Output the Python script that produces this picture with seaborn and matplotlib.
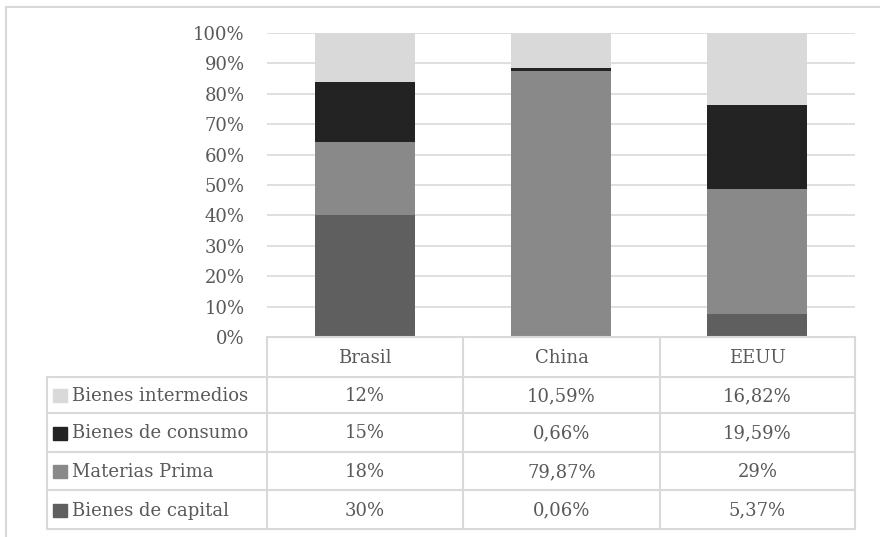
import numpy as np
import pandas as pd
import matplotlib.pyplot as plt
import seaborn as sns
from matplotlib.lines import Line2D
from matplotlib.patches import Rectangle

# Data (shares as shown in the data table, %)
countries = ['Brasil', 'China', 'EEUU']
categories = ['Bienes intermedios', 'Bienes de consumo', 'Materias Prima', 'Bienes de capital']
intermedios = [12, 10.59, 16.82]
consumo = [15, 0.66, 19.59]
materias = [18, 79.87, 29]
capital = [30, 0.06, 5.37]
table_text = [
    ['12%', '10,59%', '16,82%'],
    ['15%', '0,66%', '19,59%'],
    ['18%', '79,87%', '29%'],
    ['30%', '0,06%', '5,37%'],
]
colors = ['#d9d9d9', '#232323', '#898989', '#5f5f5f']
text_color = '#595959'
line_color = '#d9d9d9'
fs = 13

sns.set_theme(style='white')
plt.rcParams['font.family'] = ['DejaVu Serif']

df = pd.DataFrame({'pais': countries, 'Bienes de capital': capital,
                   'Materias Prima': materias, 'Bienes de consumo': consumo,
                   'Bienes intermedios': intermedios})
stack_order = ['Bienes de capital', 'Materias Prima', 'Bienes de consumo', 'Bienes intermedios']
totals = df[stack_order].sum(axis=1)
pct = df[stack_order].div(totals, axis=0) * 100
cum = pct.cumsum(axis=1)

W, H = 880, 537
fig = plt.figure(figsize=(W / 100, H / 100), dpi=100)

def fx(px):
    return px / W

def fy(py):
    return 1 - py / H

# outer frame
fig.add_artist(Line2D([fx(6), 1], [fy(7), fy(7)], color=line_color, lw=1.5))
fig.add_artist(Line2D([fx(6), fx(6)], [fy(7), 0], color=line_color, lw=1.5))

ax = fig.add_axes([fx(267), fy(337), fx(855) - fx(267), fy(33) - fy(337)])
color_map = dict(zip(categories, colors))
# draw cumulative heights from top to bottom so each layer overlays the next
for cat in reversed(stack_order):
    sns.barplot(x=df['pais'], y=cum[cat], color=color_map[cat], width=0.51,
                saturation=1, linewidth=0, edgecolor='none', ax=ax, zorder=3)
ax.set_ylim(0, 100)
ax.set_yticks(np.arange(0, 101, 10))
ax.set_yticklabels([f'{v}%' for v in range(0, 101, 10)], color=text_color, fontsize=fs)
ax.tick_params(axis='y', length=0, pad=16)
ax.set_xticks([])
ax.set_xlabel('')
ax.set_ylabel('')
ax.grid(axis='y', color=line_color, lw=1.2, zorder=0)
for s in ax.spines.values():
    s.set_visible(False)

# data table below the chart
tx = fig.add_axes([0, 0, 1, 1], facecolor='none')
tx.set_xlim(0, W)
tx.set_ylim(H, 0)
tx.axis('off')
col_x = [47, 267, 463, 660, 855]
row_y = [337, 377, 413, 452, 490, 529]
lk = dict(color=line_color, lw=1.5, zorder=1)
tx.plot([267, 855], [337, 337], **lk)
for y in row_y[1:]:
    tx.plot([47, 855], [y, y], **lk)
tx.plot([47, 47], [377, 529], **lk)
for x in col_x[1:]:
    tx.plot([x, x], [337, 529], **lk)
for j, name in enumerate(countries):
    cx = (col_x[j + 1] + col_x[j + 2]) / 2
    tx.text(cx, (row_y[0] + row_y[1]) / 2 + 1, name, ha='center', va='center',
            color=text_color, fontsize=fs)
for i, cat in enumerate(categories):
    cy = (row_y[i + 1] + row_y[i + 2]) / 2
    tx.add_patch(Rectangle((53, cy - 6), 14, 13, color=color_map[cat]))
    tx.text(72, cy + 1, cat, ha='left', va='center', color=text_color, fontsize=fs)
    for j in range(3):
        cx = (col_x[j + 1] + col_x[j + 2]) / 2
        tx.text(cx, cy + 1, table_text[i][j], ha='center', va='center',
                color=text_color, fontsize=fs)

plt.savefig('out.png', dpi=100)
